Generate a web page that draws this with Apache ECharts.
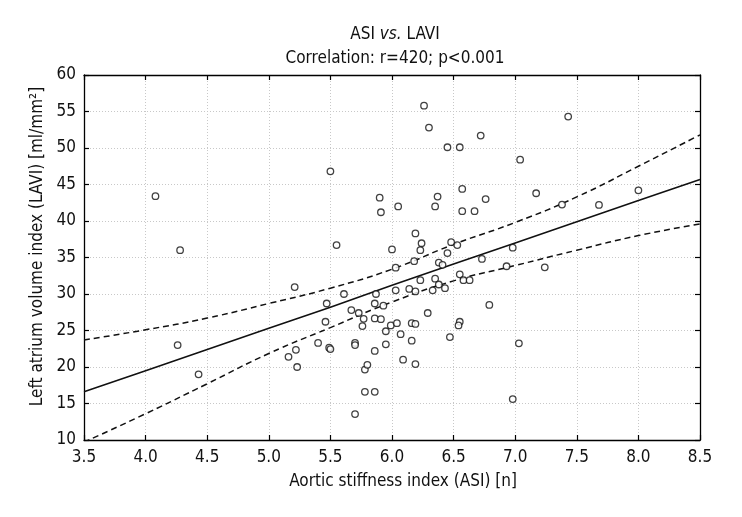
<!DOCTYPE html>
<html>
<head>
<meta charset="utf-8">
<script src="https://cdn.jsdelivr.net/npm/echarts@6/dist/echarts.min.js"></script>
<style>
html,body{margin:0;padding:0;background:#fff;}
#chart{width:742px;height:517px;}
</style>
</head>
<body>
<div id="chart"></div>
<script>
// ---- data ----
var asi = [4.08,4.28,4.26,4.43,5.16,5.22,5.23,5.21,5.50,5.55,5.40,5.46,5.47,5.49,5.50,5.61,5.67,5.73,5.77,5.76,
  5.70,5.70,5.70,5.78,5.86,5.78,5.80,5.86,5.86,5.93,5.87,5.86,5.91,5.95,5.95,5.99,6.04,6.07,6.09,6.19,
  6.16,6.16,6.19,6.29,6.03,6.14,6.19,6.23,6.33,6.35,6.38,6.43,6.55,6.58,6.63,6.47,6.55,6.54,6.79,6.03,
  6.18,6.38,6.41,6.00,6.23,6.24,6.19,6.48,6.53,6.45,6.73,5.90,5.91,6.05,6.35,6.37,6.57,6.57,6.67,6.76,
  6.26,6.30,6.45,6.55,6.72,7.43,7.04,7.17,7.38,7.68,8.00,6.98,6.93,7.24,7.03,6.98];
var lavi = [43.4,36.0,23.0,19.0,21.4,22.35,20.0,30.95,46.8,36.7,23.3,26.2,28.7,22.65,22.45,30.0,27.8,27.4,26.6,25.6,
  23.3,23.0,13.55,16.6,16.6,19.65,20.3,22.2,28.7,28.4,30.0,26.65,26.55,24.9,23.1,25.7,26.0,24.5,21.0,20.4,
  23.6,26.0,25.9,27.4,30.5,30.7,30.35,31.9,30.5,32.1,31.3,30.8,32.7,31.9,31.9,24.1,26.2,25.7,28.5,33.6,
  34.5,34.3,34.0,36.1,36.0,36.95,38.3,37.1,36.7,35.6,34.8,43.2,41.2,42.0,42.0,43.35,44.4,41.35,41.35,43.0,
  55.8,52.8,50.1,50.1,51.7,54.3,48.4,43.8,42.25,42.2,44.2,36.35,33.8,33.65,23.25,15.6];

var bandX  = [3.5, 4.0, 4.5, 5.0, 5.5, 6.0, 6.5, 7.0, 7.5, 8.0, 8.5];
var fitY   = [16.6, 19.5, 22.4, 25.3, 28.2, 31.2, 34.1, 37.0, 39.9, 42.8, 45.7];
var upperY = [23.7, 25.1, 26.7, 28.7, 30.8, 33.4, 36.8, 39.8, 43.3, 47.5, 51.8];
var lowerY = [9.7, 13.6, 17.7, 21.85, 25.4, 28.9, 31.8, 33.9, 36.0, 38.0, 39.6];

var xTicks = ['3.5','4.0','4.5','5.0','5.5','6.0','6.5','7.0','7.5','8.0','8.5'];
var yTicks = ['10','15','20','25','30','35','40','45','50','55','60'];

// ---- build ----
function zip(a, b){ var r=[]; for (var i=0;i<a.length;i++) r.push([a[i], b[i]]); return r; }
var FONT = "'DejaVu Sans Condensed','Liberation Sans Narrow','Noto Sans',sans-serif";

var chart = echarts.init(document.getElementById('chart'), null, {renderer:'canvas'});
var axisCommon = {
  axisLine:{show:true, lineStyle:{color:'#000', width:1.3}},
  axisTick:{show:true, inside:true, length:5, lineStyle:{color:'#000', width:1.2}},
  splitLine:{show:false}
};
chart.setOption({
  animation:false,
  backgroundColor:'#fff',
  title:{
    left:390, top:18, textAlign:'center',
    text:'{n|ASI }{i|vs.}{n| LAVI}\n{n|Correlation: r=420; p<0.001}',
    textStyle:{
      fontWeight:'normal',
      rich:{
        n:{fontFamily:FONT, fontSize:17, fontWeight:'normal', color:'#111', lineHeight:24},
        i:{fontFamily:FONT, fontSize:17, fontWeight:'normal', fontStyle:'italic', color:'#111', lineHeight:24}
      }
    }
  },
  grid:{left:84, right:42, top:75, bottom:77},
  xAxis:[
    Object.assign({
      type:'value', min:3.5, max:8.5, interval:0.5, position:'bottom',
      name:'Aortic stiffness index (ASI) [n]', nameLocation:'middle', nameGap:33,
      nameTextStyle:{fontFamily:FONT, fontSize:17, color:'#111', padding:[0,0,0,22]},
      axisLabel:{fontFamily:FONT, fontSize:17, color:'#111', margin:9,
        formatter:function(v){ var i=Math.round((v-3.5)/0.5); return xTicks[i]; }}
    }, axisCommon, {splitLine:{show:true, lineStyle:{color:'#c8c8c8', type:[1,2], width:1}}}),
    Object.assign({
      type:'value', min:3.5, max:8.5, interval:0.5, position:'top',
      axisLabel:{show:false}
    }, axisCommon)
  ],
  yAxis:[
    Object.assign({
      type:'value', min:10, max:60, interval:5, position:'left',
      name:'Left atrium volume index (LAVI) [ml/mm²]', nameLocation:'middle', nameGap:33,
      nameTextStyle:{fontFamily:FONT, fontSize:17, color:'#111', padding:[0,0,0,22]},
      axisLabel:{fontFamily:FONT, fontSize:17, color:'#111', margin:8,
        formatter:function(v){ var i=Math.round((v-10)/5); return yTicks[i]; }}
    }, axisCommon, {splitLine:{show:true, lineStyle:{color:'#c8c8c8', type:[1,2], width:1}}}),
    Object.assign({
      type:'value', min:10, max:60, interval:5, position:'right',
      axisLabel:{show:false}
    }, axisCommon)
  ],
  series:[
    {
      type:'line', data:zip(bandX, upperY), smooth:true, symbol:'none', clip:true,
      lineStyle:{color:'#111', width:1.5, type:[6,4]}, z:3
    },
    {
      type:'line', data:zip(bandX, lowerY), smooth:true, symbol:'none', clip:true,
      lineStyle:{color:'#111', width:1.5, type:[6,4]}, z:3
    },
    {
      type:'line', data:zip(bandX, fitY), symbol:'none', clip:true,
      lineStyle:{color:'#111', width:1.6}, z:3
    },
    {
      type:'scatter', data:zip(asi, lavi), symbol:'circle', symbolSize:6.5,
      itemStyle:{color:'#fff', borderColor:'#111', borderWidth:1.3}, z:4
    }
  ]
});
</script>
</body>
</html>
